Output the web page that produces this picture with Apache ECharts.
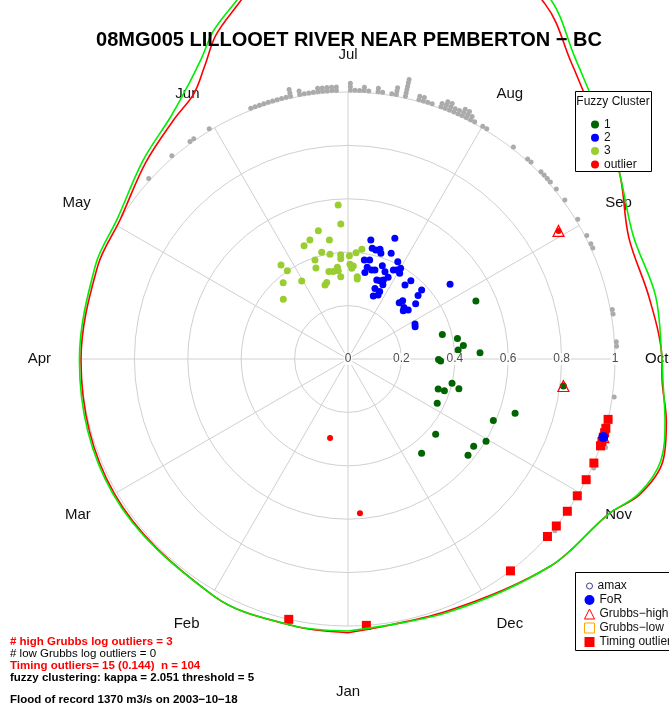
<!DOCTYPE html>
<html>
<head>
<meta charset="utf-8">
<script src="https://cdn.jsdelivr.net/npm/echarts@6/dist/echarts.min.js"></script>
<style>
html, body { margin: 0; padding: 0; background: #fff; }
#chart { width: 669px; height: 713px; }
</style>
</head>
<body>
<div id="chart"></div>
<script>
var FONT = '"Liberation Sans", Arial, sans-serif';

var months = ['Jan', 'Feb', 'Mar', 'Apr', 'May', 'Jun', 'Jul', 'Aug', 'Sep', 'Oct', 'Nov', 'Dec'];
var radiusTicks = [0, 0.2, 0.4, 0.6, 0.8, 1];

// events: [flow / flood of record, day of year]
var cluster1 = [[0.526,249],[0.365,259],[0.417,263],[0.435,267],[0.414,269],[0.495,271],[0.339,274],[0.347,275],
    [0.400,287],[0.430,289],[0.356,292.4],[0.380,292.2],[0.373,300.5],[0.658,292],[0.591,297],[0.433,315],
    [0.602,305],[0.573,309],[0.576,313],[0.448,326.5],[0.813,281]];
var cluster2 = [[0.454,193.5],[0.485,204],[0.425,195],[0.421,197],[0.428,199],[0.415,200],[0.428,205],[0.376,192],
    [0.380,195],[0.409,210],[0.351,194.5],[0.345,197.6],[0.348,199.6],[0.330,193.7],[0.372,203],[0.355,205.8],
    [0.374,209.9],[0.380,211.6],[0.393,213],[0.375,214],[0.341,209],[0.324,207],[0.317,205],[0.315,202.8],
    [0.307,208],[0.283,203.7],[0.279,208],[0.265,208],[0.254,204.7],[0.350,220.6],[0.376,221.8],[0.378,230],
    [0.354,231],[0.327,234],[0.285,225.4],[0.299,226.3],[0.285,230.5],[0.291,234],[0.275,232],[0.283,245.8],
    [0.279,247.7],[0.474,237]];
var cluster3 = [[0.578,178.8],[0.506,179.4],[0.493,169.3],[0.468,164.5],[0.455,161],[0.451,173.5],[0.412,168.5],
    [0.398,172.6],[0.391,178.4],[0.376,178.3],[0.387,183.3],[0.399,186.9],[0.414,189.8],[0.391,163.8],[0.432,146.5],
    [0.401,147.5],[0.361,162.8],[0.335,170],[0.332,172.8],[0.346,175.8],[0.333,176.1],[0.355,183.7],[0.340,184.9],
    [0.349,185.8],[0.309,177.4],[0.310,189],[0.302,189.2],[0.340,151.4],[0.375,141.6],[0.297,166.7],[0.290,165],
    [0.330,134.6]];
var outliers = [[0.303,13],[0.579,360.5],[0.923,242]];
var grubbsHigh = [[0.923,242],[0.813,281],[1.0,291]];
var grubbsLow = [];
var floodOfRecord = [[1.0,291]];
var timingDays = [13, 287, 289, 290, 291, 292, 293, 297, 301, 305, 309, 313, 316, 327, 361];

// day of year of every annual max (stacked on the rim)
var amaxDays = [134,141,146,147,151,
    161,162,163,164,165,166,
    167,168,169,170,170,170,
    172,172,173,174,175,
    176,176,177,177,178,178,179,179,180,180,
    183,183,183,184,185,186,186,187,
    189,189,190,192,193,193,193,
    195,195,195,195,195,195,
    198,198,199,199,200,201,
    203,203,204,204,204,205,205,205,206,206,207,207,208,208,208,209,209,209,210,210,211,
    213,214,221,225,226,229,230,231,232,234,237,242,246,248,249,
    263,264,270,271,282,
    287,289,290,291,292,293,293,297,298,301,305,309,313,314,316,327,361,13];

// circular densities drawn as 1 + density
var densDays  = [0,12,30,61,91,112,123,136,146,152,156,160,165,172,182,198,212,220,229,238,250,262,273,278,285,292,299,305,320,343,365];
var densRed   = [1.025,1.02,1.02,1.01,1.0,1.0,1.0,1.056,1.109,1.15,1.22,1.31,1.39,1.53,1.65,1.68,1.52,1.39,1.29,1.24,1.146,1.151,1.175,1.18,1.215,1.24,1.205,1.135,1.085,1.015,1.025];
var densGreen = [1.019,1.02,1.02,1.015,1.006,1.009,1.011,1.069,1.126,1.19,1.25,1.33,1.406,1.55,1.68,1.72,1.55,1.413,1.31,1.239,1.164,1.176,1.175,1.183,1.21,1.232,1.2,1.135,1.085,1.02,1.019];

var titleText = '08MG005 LILLOOET RIVER NEAR PEMBERTON \u2212 BC';
var notes = [
    '# high Grubbs log outliers = 3',
    '# low Grubbs log outliers = 0',
    'Timing outliers= 15 (0.144)  n = 104',
    'fuzzy clustering: kappa = 2.051 threshold = 5',
    'Flood of record 1370 m3/s on 2003\u221210\u221218'
];

function toAng(d) { return d * 360 / 365; }
function pts(arr) {
    return arr.map(function (p) { return [p[0], toAng(p[1])]; });
}

var chart = echarts.init(document.getElementById('chart'), null, { renderer: 'canvas' });

var stack = {};
var amaxPts = amaxDays.map(function (d) {
    var k = stack[d] || 0;
    stack[d] = k + 1;
    return [1.007 + 0.013 * k, toAng(d)];
});

var noteStyle = [
    { color: '#ff0000', weight: 'bold' },
    { color: '#000', weight: 'normal' },
    { color: '#ff0000', weight: 'bold' },
    { color: '#000', weight: 'bold' },
    { color: '#000', weight: 'bold' }
];
var noteY = [642, 653.5, 665.5, 678, 700];

var graphic = [{
    type: 'text', x: 349, y: 40, z: 30,
    style: { text: titleText, font: 'bold 20px ' + FONT, fill: '#000', align: 'center', verticalAlign: 'middle' }
}, {
    type: 'rect', z: 10,
    shape: { x: 575.5, y: 91.5, width: 76, height: 80 },
    style: { fill: '#fff', stroke: '#000', lineWidth: 1 }
}, {
    type: 'text', x: 613, y: 102, z: 30,
    style: { text: 'Fuzzy Cluster', font: '12px ' + FONT, fill: '#111', align: 'center', verticalAlign: 'middle' }
}, {
    type: 'rect', z: 10,
    shape: { x: 575.5, y: 572.5, width: 120, height: 78 },
    style: { fill: '#fff', stroke: '#000', lineWidth: 1 }
}];
notes.forEach(function (t, i) {
    graphic.push({
        type: 'text', x: 10, y: noteY[i], z: 30,
        style: {
            text: t, font: noteStyle[i].weight + ' 11.5px ' + FONT, fill: noteStyle[i].color,
            align: 'left', verticalAlign: 'middle'
        }
    });
});

var option = {
    animation: false,
    backgroundColor: '#fff',
    textStyle: { fontFamily: FONT },
    polar: [
        { center: [348, 359], radius: 267 },
        { center: [348, 359], radius: 534 }
    ],
    angleAxis: [{
        polarIndex: 0, type: 'value', min: 0, max: 360, interval: 30,
        startAngle: 270, clockwise: true,
        axisLine: { show: false },
        axisTick: { show: false },
        splitLine: { show: true, lineStyle: { color: '#d0d0d0', width: 1 } },
        axisLabel: {
            margin: 30, fontSize: 15, color: '#111', fontFamily: FONT,
            formatter: function (v) {
                var i = Math.round(v / 30);
                if (i >= 12) return '';
                if (i === 0) return '{j|' + months[0] + '}';
                return months[i];
            },
            rich: { j: { fontSize: 15, color: '#111', fontFamily: FONT, padding: [28, 0, 0, 0] } }
        }
    }, {
        polarIndex: 1, type: 'value', min: 0, max: 360,
        startAngle: 270, clockwise: true, show: false
    }],
    radiusAxis: [{
        polarIndex: 0, type: 'value', min: 0, max: 1, interval: 0.2,
        axisLine: { show: false },
        axisTick: { show: false },
        axisLabel: { show: false },
        splitLine: { show: true, lineStyle: { color: '#d0d0d0', width: 1 } }
    }, {
        polarIndex: 1, type: 'value', min: 0, max: 2, show: false
    }],
    legend: [{
        data: ['1', '2', '3', 'outlier'],
        orient: 'vertical', left: 586, top: 113, z: 20,
        icon: 'circle', itemWidth: 8, itemHeight: 8, itemGap: 0.3,
        selectedMode: false,
        textStyle: { fontSize: 12, color: '#111', fontFamily: FONT, lineHeight: 13 }
    }, {
        data: [{ name: 'amax', icon: 'circle', itemStyle: { color: '#fff', borderColor: '#3a3aa0', borderWidth: 1 } }],
        orient: 'vertical', left: 581, top: 574, z: 20,
        itemWidth: 6, itemHeight: 6, selectedMode: false,
        textStyle: { fontSize: 12, color: '#111', fontFamily: FONT, lineHeight: 14 }
    }, {
        data: [
            { name: 'FoR', icon: 'circle' },
            { name: 'Grubbs\u2212high', icon: 'triangle', itemStyle: { color: '#fff', borderColor: '#ff0000', borderWidth: 1 } },
            { name: 'Grubbs\u2212low', icon: 'rect', itemStyle: { color: '#fff', borderColor: '#ffa500', borderWidth: 1 } },
            { name: 'Timing outlier', icon: 'rect' }
        ],
        orient: 'vertical', left: 579, top: 588, z: 20,
        itemWidth: 10, itemHeight: 10, itemGap: 0,
        selectedMode: false,
        textStyle: { fontSize: 12, color: '#111', fontFamily: FONT, lineHeight: 14 }
    }],
    graphic: graphic,
    series: [{
        name: 'density red', type: 'line', coordinateSystem: 'polar', polarIndex: 1,
        data: densDays.map(function (d, i) { return [densRed[i], toAng(d)]; }),
        symbol: 'none', smooth: 0.35, silent: true,
        lineStyle: { color: '#ff0000', width: 1.6 }
    }, {
        name: 'density green', type: 'line', coordinateSystem: 'polar', polarIndex: 1,
        data: densDays.map(function (d, i) { return [densGreen[i], toAng(d)]; }),
        symbol: 'none', smooth: 0.35, silent: true,
        lineStyle: { color: '#00ee00', width: 1.6 }
    }, {
        name: 'ticks', type: 'scatter', coordinateSystem: 'polar', polarIndex: 0, clip: false,
        data: radiusTicks.map(function (r) { return [r, 270]; }),
        symbolSize: 1, itemStyle: { color: 'rgba(0,0,0,0)' }, silent: true,
        label: {
            show: true, position: 'inside', fontSize: 12, color: '#222', fontFamily: FONT,
            backgroundColor: '#fff', padding: [0, 1],
            formatter: function (p) { return String(p.value[0]); }
        }
    }, {
        name: 'amax', type: 'scatter', coordinateSystem: 'polar', polarIndex: 1, clip: false,
        data: amaxPts, symbol: 'circle', symbolSize: 5,
        itemStyle: { color: '#ababab', opacity: 1 }
    }, {
        name: '3', type: 'scatter', coordinateSystem: 'polar', polarIndex: 1, clip: false,
        data: pts(cluster3), symbolSize: 7, itemStyle: { color: '#9acd32', opacity: 1 }
    }, {
        name: '2', type: 'scatter', coordinateSystem: 'polar', polarIndex: 1, clip: false,
        data: pts(cluster2), symbolSize: 7, itemStyle: { color: '#0000ff', opacity: 1 }
    }, {
        name: '1', type: 'scatter', coordinateSystem: 'polar', polarIndex: 1, clip: false,
        data: pts(cluster1), symbolSize: 7, itemStyle: { color: '#006400', opacity: 1 }
    }, {
        name: 'outlier', type: 'scatter', coordinateSystem: 'polar', polarIndex: 1, clip: false,
        data: pts(outliers), symbolSize: 6, itemStyle: { color: '#ff0000', opacity: 1 }
    }, {
        name: 'Timing outlier', type: 'scatter', coordinateSystem: 'polar', polarIndex: 1, clip: false,
        data: timingDays.map(function (d) { return [1.0, toAng(d)]; }),
        symbol: 'rect', symbolSize: 9, itemStyle: { color: '#ff0000', opacity: 1 }
    }, {
        name: 'Grubbs\u2212high', type: 'scatter', coordinateSystem: 'polar', polarIndex: 1, clip: false,
        data: pts(grubbsHigh), symbol: 'triangle', symbolSize: 11,
        itemStyle: { color: 'rgba(0,0,0,0)', borderColor: '#ff0000', borderWidth: 1.2, opacity: 1 }
    }, {
        name: 'Grubbs\u2212low', type: 'scatter', coordinateSystem: 'polar', polarIndex: 1, clip: false,
        data: grubbsLow, symbol: 'rect', symbolSize: 9,
        itemStyle: { color: 'rgba(0,0,0,0)', borderColor: '#ffa500', borderWidth: 1, opacity: 1 }
    }, {
        name: 'FoR', type: 'scatter', coordinateSystem: 'polar', polarIndex: 1, clip: false,
        data: pts(floodOfRecord), symbolSize: 10, itemStyle: { color: '#0000ff', opacity: 1 }
    }]
};

chart.setOption(option);
</script>
</body>
</html>
